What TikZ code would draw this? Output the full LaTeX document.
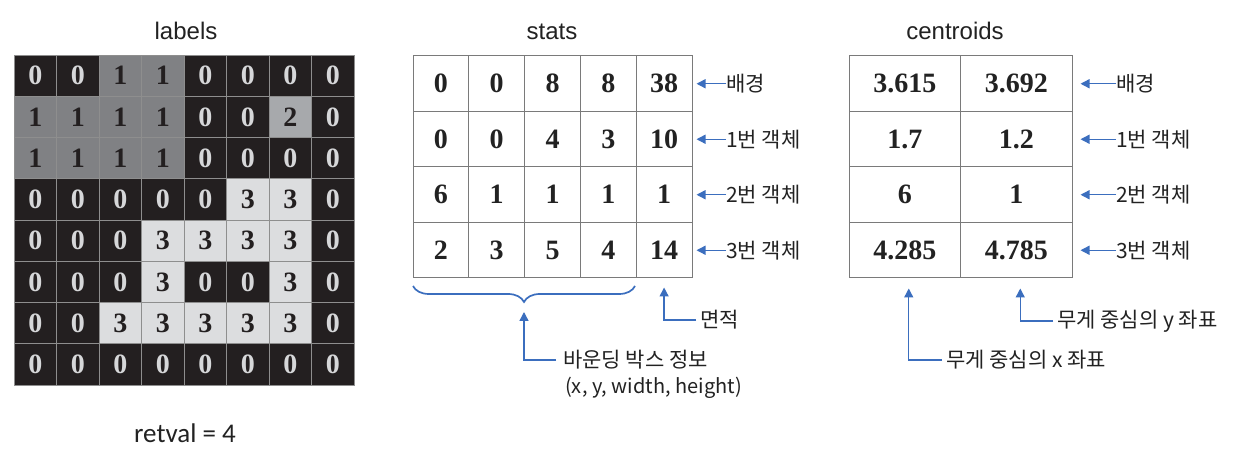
\documentclass[tikz,border=0pt]{standalone}
\usepackage{fontspec}
\setmainfont{Liberation Serif}
\newfontfamily\krfont{Noto Sans CJK KR}
\newfontfamily\ttlfont{Liberation Sans}
\newfontfamily\calfont{Carlito}
\usetikzlibrary{arrows.meta,decorations.pathreplacing}
\definecolor{fillA}{HTML}{231F20}
\definecolor{fillB}{HTML}{808184}
\definecolor{fillC}{HTML}{A7A9AC}
\definecolor{fillD}{HTML}{DCDDDF}
\definecolor{txtA}{HTML}{D6D7D9}
\definecolor{txtB}{HTML}{231F20}
\definecolor{txtC}{HTML}{231F20}
\definecolor{txtD}{HTML}{231F20}
\definecolor{gridline}{HTML}{8E8E8E}
\definecolor{tabline}{HTML}{7A7A7A}
\definecolor{arrblue}{RGB}{59,110,190}
\definecolor{ink}{HTML}{222222}
\begin{document}
\begin{tikzpicture}[x=1bp,y=-1bp,
  gcell/.style={draw=gridline, line width=0.8bp, minimum width=42.5bp, minimum height=41.25bp, inner sep=0pt,
     font=\fontsize{28bp}{30bp}\selectfont\bfseries},
  tcell/.style={draw=tabline, line width=1bp, minimum height=55.5bp, inner sep=0pt,
     font=\fontsize{28bp}{30bp}\selectfont\bfseries, text=ink},
  rowlbl/.style={anchor=west, inner sep=0pt, font=\krfont\fontsize{21bp}{24bp}\selectfont, text=ink},
  arr/.style={draw=arrblue, line width=1.4bp, -{Triangle[length=9bp,width=9bp]}},
  ttl/.style={anchor=base, inner sep=0pt, font=\ttlfont\fontsize{24bp}{28bp}\selectfont, text=ink}
]
\useasboundingbox (0,0) rectangle (1246,454);
\fill[white] (0,0) rectangle (1246,454);

% titles
\node[ttl] (tlabels) at (186,40) {labels};
\node[ttl] (tstats) at (552,40) {stats};
\node[ttl] (tcent) at (955,40) {centroids};

% labels grid
\foreach \row [count=\r] in {{0,0,1,1,0,0,0,0},{1,1,1,1,0,0,2,0},{1,1,1,1,0,0,0,0},{0,0,0,0,0,3,3,0},{0,0,0,3,3,3,3,0},{0,0,0,3,0,0,3,0},{0,0,3,3,3,3,3,0},{0,0,0,0,0,0,0,0}}{
  \foreach \v [count=\c] in \row {
    \ifcase\v \def\fc{fillA}\def\tc{txtA}\or \def\fc{fillB}\def\tc{txtB}\or \def\fc{fillC}\def\tc{txtC}\or \def\fc{fillD}\def\tc{txtD}\fi
    \node[gcell, fill=\fc, text=\tc] (g-\r-\c) at ({14+42.5*(\c-0.5)},{55+41.25*(\r-0.5)}) {\v};
  }
}
\node[anchor=base, inner sep=0pt, font=\calfont\fontsize{27bp}{30bp}\selectfont, text=ink] (retval) at (185,443) {retval = 4};

% stats table
\foreach \row [count=\r] in {{0,0,8,8,38},{0,0,4,3,10},{6,1,1,1,1},{2,3,5,4,14}}{
  \foreach \v [count=\c] in \row {
    \node[tcell, minimum width=55.8bp] (s-\r-\c) at ({413+55.8*(\c-0.5)},{56+55.5*(\r-0.5)}) {\v};
  }
}
% centroids table
\foreach \row [count=\r] in {{3.615,3.692},{1.7,1.2},{6,1},{4.285,4.785}}{
  \foreach \v [count=\c] in \row {
    \node[tcell, minimum width=111.5bp] (c-\r-\c) at ({849+111.5*(\c-0.5)},{56+55.5*(\r-0.5)}) {\v};
  }
}

% row labels
\foreach \t [count=\r] in {배경,1번 객체,2번 객체,3번 객체}{
  \node[rowlbl] (sl-\r) at (726,{56+55.5*(\r-0.5)}) {\t};
  \draw[arr, shorten >=4bp] (sl-\r.west) -- (s-\r-5.east);
  \node[rowlbl] (cl-\r) at (1116,{56+55.5*(\r-0.5)}) {\t};
  \draw[arr, shorten >=8bp] (cl-\r.west) -- (c-\r-2.east);
}

% brace
\coordinate (bl) at (413,286);
\coordinate (br) at (635,286);
\draw[arrblue, line width=1.7bp, decorate, decoration={brace, amplitude=16bp, mirror}] (bl) -- (br);
\coordinate (btip) at (524,303);
\node[rowlbl] (bbox) at (563,360) {바운딩 박스 정보};
\node[rowlbl, font=\krfont\fontsize{20bp}{24bp}\selectfont] (bbox2) at (565,388) {(x, y, width, height)};
\draw[arr, shorten <=7bp, shorten >=9bp] (bbox.west) -| (btip);

% area
\node[rowlbl] (area) at (700,320) {면적};
\draw[arr, shorten <=4bp, shorten >=9bp] (area.west) -| (s-4-5.south);

% centroid coordinates
\node[rowlbl] (cx) at (946,360) {무게 중심의 x 좌표};
\draw[arr, shorten <=4bp, shorten >=10bp] (cx.west) -| ([xshift=4bp]c-4-1.south);
\node[rowlbl] (cy) at (1057,321) {무게 중심의 y 좌표};
\draw[arr, shorten <=4bp, shorten >=10bp] (cy.west) -| ([xshift=4bp]c-4-2.south);
\end{tikzpicture}
\end{document}
